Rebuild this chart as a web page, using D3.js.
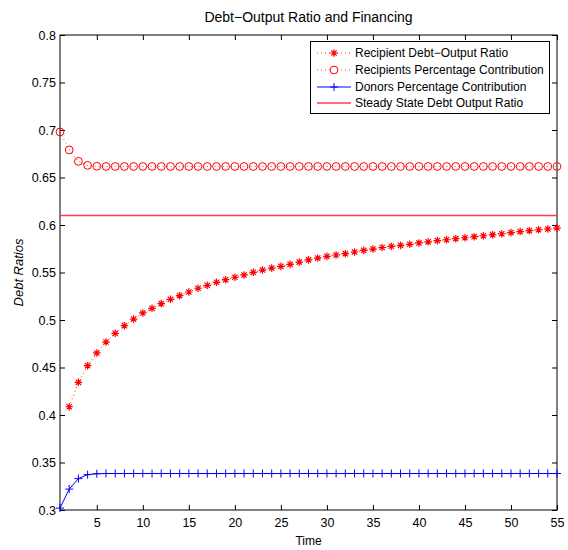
<!DOCTYPE html>
<html><head><meta charset="utf-8">
<script src="https://cdn.jsdelivr.net/npm/d3@7"></script>
<style>body{margin:0;background:#fff}svg{display:block}text{font-family:"Liberation Sans",Arial,sans-serif;fill:#000}</style>
</head><body><svg id="c" width="568" height="550"></svg>
<script>
const title = "Debt\u2212Output Ratio and Financing";
const xLabel = "Time";
const yLabel = "Debt Ratios";
const xTicks = [5,10,15,20,25,30,35,40,45,50,55];
const yTicks = [0.3,0.35,0.4,0.45,0.5,0.55,0.6,0.65,0.7,0.75,0.8];
const seriesNames = ["Recipient Debt\u2212Output Ratio","Recipients Percentage Contribution","Donors Percentage Contribution","Steady State Debt Output Ratio"];
// Recipient debt-output ratio, periods 2..55
const debtX = [2,3,4,5,6,7,8,9,10,11,12,13,14,15,16,17,18,19,20,21,22,23,24,25,26,27,28,29,30,31,32,33,34,35,36,37,38,39,40,41,42,43,44,45,46,47,48,49,50,51,52,53,54,55];
const debtY = [0.4087,0.4344,0.4519,0.4653,0.4768,0.4860,0.4940,0.5010,0.5074,0.5123,0.5172,0.5218,0.5256,0.5295,0.5334,0.5365,0.5397,0.5424,0.5450,0.5474,0.5502,0.5526,0.5547,0.5565,0.5586,0.5610,0.5633,0.5652,0.5670,0.5684,0.5698,0.5716,0.5733,0.5747,0.5763,0.5776,0.5786,0.5797,0.5811,0.5823,0.5836,0.5845,0.5856,0.5866,0.5877,0.5887,0.5898,0.5908,0.5920,0.5931,0.5940,0.5950,0.5958,0.5968];
// periods 1..55
const periods = [1,2,3,4,5,6,7,8,9,10,11,12,13,14,15,16,17,18,19,20,21,22,23,24,25,26,27,28,29,30,31,32,33,34,35,36,37,38,39,40,41,42,43,44,45,46,47,48,49,50,51,52,53,54,55];
const recipY = [0.698,0.679,0.667,0.6628,0.6618,0.6616,0.6616,0.6616,0.6616,0.6616,0.6616,0.6616,0.6616,0.6616,0.6616,0.6616,0.6616,0.6616,0.6616,0.6616,0.6616,0.6616,0.6616,0.6616,0.6616,0.6616,0.6616,0.6616,0.6616,0.6616,0.6616,0.6616,0.6616,0.6616,0.6616,0.6616,0.6616,0.6616,0.6616,0.6616,0.6616,0.6616,0.6616,0.6616,0.6616,0.6616,0.6616,0.6616,0.6616,0.6616,0.6616,0.6616,0.6616,0.6616,0.6616];
const donorY = [0.302,0.322,0.333,0.3372,0.3382,0.3384,0.3384,0.3384,0.3384,0.3384,0.3384,0.3384,0.3384,0.3384,0.3384,0.3384,0.3384,0.3384,0.3384,0.3384,0.3384,0.3384,0.3384,0.3384,0.3384,0.3384,0.3384,0.3384,0.3384,0.3384,0.3384,0.3384,0.3384,0.3384,0.3384,0.3384,0.3384,0.3384,0.3384,0.3384,0.3384,0.3384,0.3384,0.3384,0.3384,0.3384,0.3384,0.3384,0.3384,0.3384,0.3384,0.3384,0.3384,0.3384,0.3384];
const steadyState = 0.61;

const svg = d3.select("#c");
const L=60, R=557, T=35, B=510;
const x = d3.scaleLinear().domain([1,55]).range([L,R]);
const y = d3.scaleLinear().domain([0.3,0.8]).range([B,T]);
const RED="#ff0000", BLUE="#0000ff";

// axes frame
const g = svg.append("g");
g.append("rect").attr("x",L).attr("y",T).attr("width",R-L).attr("height",B-T).attr("fill","none").attr("stroke","#000").attr("stroke-width",1);
const tl=5;
const xb = d3.axisBottom(x).tickValues(xTicks).tickSizeInner(-tl).tickSizeOuter(0).tickPadding(8).tickFormat(d3.format("d"));
const xt = d3.axisTop(x).tickValues(xTicks).tickSizeInner(-tl).tickSizeOuter(0).tickFormat("");
const yl = d3.axisLeft(y).tickValues(yTicks).tickSizeInner(-tl).tickSizeOuter(0).tickPadding(4).tickFormat(d=>String(+d.toFixed(2)));
const yr = d3.axisRight(y).tickValues(yTicks).tickSizeInner(-tl).tickSizeOuter(0).tickFormat("");
function style(sel){sel.select(".domain").remove();sel.selectAll("text").attr("font-size",12.5).style("font-family","Liberation Sans, Arial, sans-serif").attr("fill","#000");sel.selectAll("line").attr("stroke","#000");}
g.append("g").attr("transform",`translate(0,${B})`).call(xb).call(style);
g.append("g").attr("transform",`translate(0,${T})`).call(xt).call(style);
g.append("g").attr("transform",`translate(${L},0)`).call(yl).call(style);
g.append("g").attr("transform",`translate(${R},0)`).call(yr).call(style);

const p = svg.append("g").attr("class","plot");

const lineGen = d3.line().x(d=>x(d[0])).y(d=>y(d[1]));
const debt = debtX.map((v,i)=>[v,debtY[i]]);
const recip = periods.map((v,i)=>[v,recipY[i]]);
const donor = periods.map((v,i)=>[v,donorY[i]]);

// dotted lines
p.append("path").attr("d",lineGen(debt)).style("stroke",RED).attr("stroke-width",0.8).attr("stroke-dasharray","1,3").style("fill","none");
p.append("path").attr("d",lineGen(recip)).style("stroke",RED).attr("stroke-width",0.8).attr("stroke-dasharray","1,3").style("fill","none");
p.append("path").attr("d",lineGen(donor)).style("stroke",BLUE).attr("stroke-width",1).style("fill","none");

const star = s=>`M${-s},0H${s}M0,${-s}V${s}M${-s*0.7},${-s*0.7}L${s*0.7},${s*0.7}M${-s*0.7},${s*0.7}L${s*0.7},${-s*0.7}`;
const plus = s=>`M${-s},0H${s}M0,${-s}V${s}`;
p.selectAll("path.st").data(debt).join("path").attr("class","st").attr("transform",d=>`translate(${x(d[0])},${y(d[1])})`).attr("d",star(3.8)).style("stroke",RED).attr("stroke-width",1.2).style("fill","none");
p.selectAll("circle.ci").data(recip).join("circle").attr("class","ci").attr("cx",d=>x(d[0])).attr("cy",d=>y(d[1])).attr("r",3.9).style("stroke",RED).attr("stroke-width",1).style("fill","none");
p.selectAll("path.pl").data(donor).join("path").attr("class","pl").attr("transform",d=>`translate(${x(d[0])},${y(d[1])})`).attr("d",plus(4)).style("stroke",BLUE).attr("stroke-width",1).style("fill","none");

// steady state
p.append("line").attr("x1",x(1)).attr("x2",x(55)).attr("y1",y(steadyState)).attr("y2",y(steadyState)).style("stroke","#ff4040").attr("stroke-width",1.5);

// title & labels
svg.append("text").attr("x",(L+R)/2).attr("y",22).attr("text-anchor","middle").attr("font-size",14).text(title);
svg.append("text").attr("x",(L+R)/2).attr("y",545).attr("text-anchor","middle").attr("font-size",12).text(xLabel);
svg.append("text").attr("transform",`translate(23,${(T+B)/2}) rotate(-90)`).attr("text-anchor","middle").attr("font-size",13).attr("font-style","italic").text(yLabel);

// legend
const lg = svg.append("g");
lg.append("rect").attr("x",310.5).attr("y",41.5).attr("width",239).attr("height",72).attr("fill","#fff").attr("stroke","#000");
const ly=[53,70,87,103];
const lx0=317, lx1=351, lm=334;
lg.append("line").attr("x1",lx0).attr("x2",lx1).attr("y1",ly[0]).attr("y2",ly[0]).style("stroke",RED).attr("stroke-dasharray","1,3").attr("stroke-width",0.8);
lg.append("path").attr("transform",`translate(${lm},${ly[0]})`).attr("d",star(3.8)).style("stroke",RED).attr("stroke-width",1.2).style("fill","none");
lg.append("line").attr("x1",lx0).attr("x2",lx1).attr("y1",ly[1]).attr("y2",ly[1]).style("stroke",RED).attr("stroke-dasharray","1,3").attr("stroke-width",0.8);
lg.append("circle").attr("cx",lm).attr("cy",ly[1]).attr("r",3.9).style("stroke",RED).style("fill","#fff");
lg.append("line").attr("x1",lx0).attr("x2",lx1).attr("y1",ly[2]).attr("y2",ly[2]).style("stroke",BLUE);
lg.append("path").attr("transform",`translate(${lm},${ly[2]})`).attr("d",plus(4)).style("stroke",BLUE).style("fill","none");
lg.append("line").attr("x1",lx0).attr("x2",lx1).attr("y1",ly[3]).attr("y2",ly[3]).style("stroke","#ff4040").attr("stroke-width",1.5);
seriesNames.forEach((n,i)=>lg.append("text").attr("x",355).attr("y",ly[i]+4).attr("font-size",12).text(n));
</script></body></html>
